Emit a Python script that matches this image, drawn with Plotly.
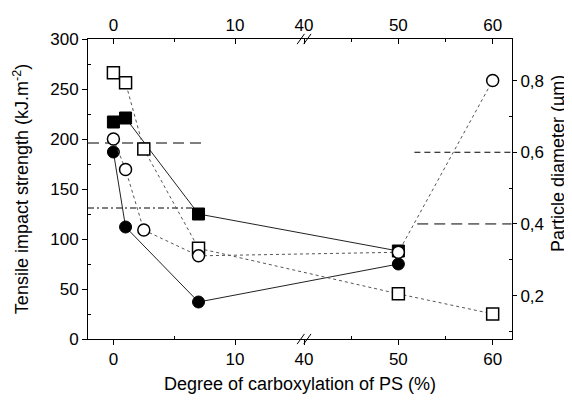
import plotly.graph_objects as go

# ---------------- data ----------------
# tensile impact strength (left axis, filled symbols, solid lines)
x_fc = [0, 1, 7, 50]
y_fc = [187, 112, 37, 75]          # filled circles
x_fs = [0, 1, 7, 50]
y_fs = [217, 221, 125, 88]         # filled squares

# particle diameter (right axis, open symbols, dotted lines)
x_oc = [0, 1, 2.5, 7, 50, 60]
y_oc = [0.637, 0.552, 0.383, 0.311, 0.321, 0.80]   # open circles
x_os = [0, 1, 2.5, 7, 50, 60]
y_os = [0.822, 0.794, 0.609, 0.332, 0.205, 0.149]  # open squares

# reference levels (horizontal dashed lines)
ref_left_long = 196      # kJ/m2
ref_left_short = 131
ref_right_short = 0.6    # µm
ref_right_long = 0.4

x_ticks = [0, 10, 40, 50, 60]
x_ticktext = ["0", "10", "40", "50", "60"]
x_minor = [5, 45, 55]
yl_ticks = [0, 50, 100, 150, 200, 250, 300]
yl_minor = [25, 75, 125, 175, 225, 275]
yr_ticks = [0.2, 0.4, 0.6, 0.8]
yr_ticktext = ["0,2", "0,4", "0,6", "0,8"]
yr_minor = [0.1, 0.3, 0.5, 0.7]

# ---------------- broken-axis transform ----------------
BREAK_T = 15.68
SCALE_R = 0.7755


def t(x):
    return x if x < 20 else BREAK_T + (x - 40) * SCALE_R


def tl(xs):
    return [t(v) for v in xs]


X_RANGE = [-2.09, 32.78]
FONT = "Liberation Sans, Arial, sans-serif"

fig = go.Figure()

# reference dashed lines
fig.add_trace(go.Scatter(x=tl([-2.09, 7.3]), y=[ref_left_long] * 2, mode="lines",
                         line=dict(color="black", width=1, dash="11px,6px"),
                         xaxis="x", yaxis="y", showlegend=False, hoverinfo="skip"))
fig.add_trace(go.Scatter(x=tl([-2.09, 6.7]), y=[ref_left_short] * 2, mode="lines",
                         line=dict(color="black", width=1, dash="6px,3px,2px,3px"),
                         xaxis="x", yaxis="y", showlegend=False, hoverinfo="skip"))

# filled symbols lines then markers
fig.add_trace(go.Scatter(x=tl(x_fs), y=y_fs, mode="lines",
                         line=dict(color="#222", width=1),
                         xaxis="x", yaxis="y", showlegend=False))
fig.add_trace(go.Scatter(x=tl(x_fc), y=y_fc, mode="lines",
                         line=dict(color="#222", width=1),
                         xaxis="x", yaxis="y", showlegend=False))
fig.add_trace(go.Scatter(x=tl(x_fs), y=y_fs, mode="markers",
                         marker=dict(symbol="square", size=12, color="black",
                                     line=dict(color="black", width=1)),
                         xaxis="x", yaxis="y", showlegend=False))
fig.add_trace(go.Scatter(x=tl(x_fc), y=y_fc, mode="markers",
                         marker=dict(symbol="circle", size=12, color="black",
                                     line=dict(color="black", width=1)),
                         xaxis="x", yaxis="y", showlegend=False))

# right-axis reference lines
fig.add_trace(go.Scatter(x=tl([51.7, 62]), y=[ref_right_short] * 2, mode="lines",
                         line=dict(color="black", width=1, dash="6px,4px"),
                         xaxis="x2", yaxis="y2", showlegend=False, hoverinfo="skip"))
fig.add_trace(go.Scatter(x=tl([52.0, 62]), y=[ref_right_long] * 2, mode="lines",
                         line=dict(color="black", width=1, dash="11px,6px"),
                         xaxis="x2", yaxis="y2", showlegend=False, hoverinfo="skip"))

# open symbols
fig.add_trace(go.Scatter(x=tl(x_os), y=y_os, mode="lines",
                         line=dict(color="#555", width=1, dash="dot"),
                         xaxis="x2", yaxis="y2", showlegend=False))
fig.add_trace(go.Scatter(x=tl(x_oc), y=y_oc, mode="lines",
                         line=dict(color="#555", width=1, dash="dot"),
                         xaxis="x2", yaxis="y2", showlegend=False))
fig.add_trace(go.Scatter(x=tl(x_os), y=y_os, mode="markers",
                         marker=dict(symbol="square", size=12, color="white",
                                     line=dict(color="black", width=1.5)),
                         xaxis="x2", yaxis="y2", showlegend=False))
fig.add_trace(go.Scatter(x=tl(x_oc), y=y_oc, mode="markers",
                         marker=dict(symbol="circle", size=12, color="white",
                                     line=dict(color="black", width=1.5)),
                         xaxis="x2", yaxis="y2", showlegend=False))

tickfont = dict(family=FONT, size=17, color="black")
titlefont = dict(family=FONT, size=18, color="black")

common_x = dict(range=X_RANGE, tickvals=tl(x_ticks), ticktext=x_ticktext,
                showgrid=False, zeroline=False, showline=True, linecolor="black",
                linewidth=1, tickcolor="black", ticklen=5, tickfont=tickfont,
                automargin=False,
                minor=dict(tickvals=tl(x_minor), ticks="inside", ticklen=3,
                           tickcolor="black"))

fig.update_layout(
    width=572, height=402,
    margin=dict(l=80, r=68, t=31, b=71, autoexpand=False),
    paper_bgcolor="white", plot_bgcolor="white",
    xaxis=dict(**common_x, ticks="outside", side="bottom", anchor="y",
               title=dict(text="Degree of carboxylation of PS (%)", font=titlefont,
                          standoff=8)),
    xaxis2=dict(**common_x, ticks="inside", side="top", overlaying="x",
                matches="x", anchor="y2"),
    yaxis=dict(range=[0, 300], tickvals=yl_ticks, showgrid=False, zeroline=False,
               showline=True, linecolor="black", linewidth=1, ticks="outside",
               tickcolor="black", ticklen=5, tickfont=tickfont, automargin=False,
               minor=dict(tickvals=yl_minor, ticks="inside", ticklen=3,
                          tickcolor="black"),
               title=dict(text="Tensile impact strength (kJ.m<sup>-2</sup>)",
                          font=titlefont, standoff=16)),
    yaxis2=dict(range=[0.079, 0.916], tickvals=yr_ticks, ticktext=yr_ticktext,
                overlaying="y", side="right", anchor="x2", showgrid=False,
                zeroline=False, showline=True, linecolor="black", linewidth=1,
                ticks="outside", tickcolor="black", ticklen=4, tickfont=tickfont,
                automargin=False,
                minor=dict(tickvals=yr_minor, ticks="inside", ticklen=3,
                           tickcolor="black")),
    annotations=[dict(text="Particle diameter (µm)", xref="paper", yref="paper",
                      x=1, y=0.583, xshift=46, textangle=-90, showarrow=False,
                      xanchor="center", yanchor="middle", font=titlefont)],
)

# axis-break marks ("//") on bottom and top axes
for yc in (0.0, 1.0):
    for dx in (-0.27, 0.27):
        fig.add_shape(type="line", xref="x", yref="paper",
                      x0=BREAK_T + dx - 0.3, x1=BREAK_T + dx + 0.3,
                      y0=yc - 0.017, y1=yc + 0.017,
                      line=dict(color="black", width=1))

fig.write_html("out.html")
